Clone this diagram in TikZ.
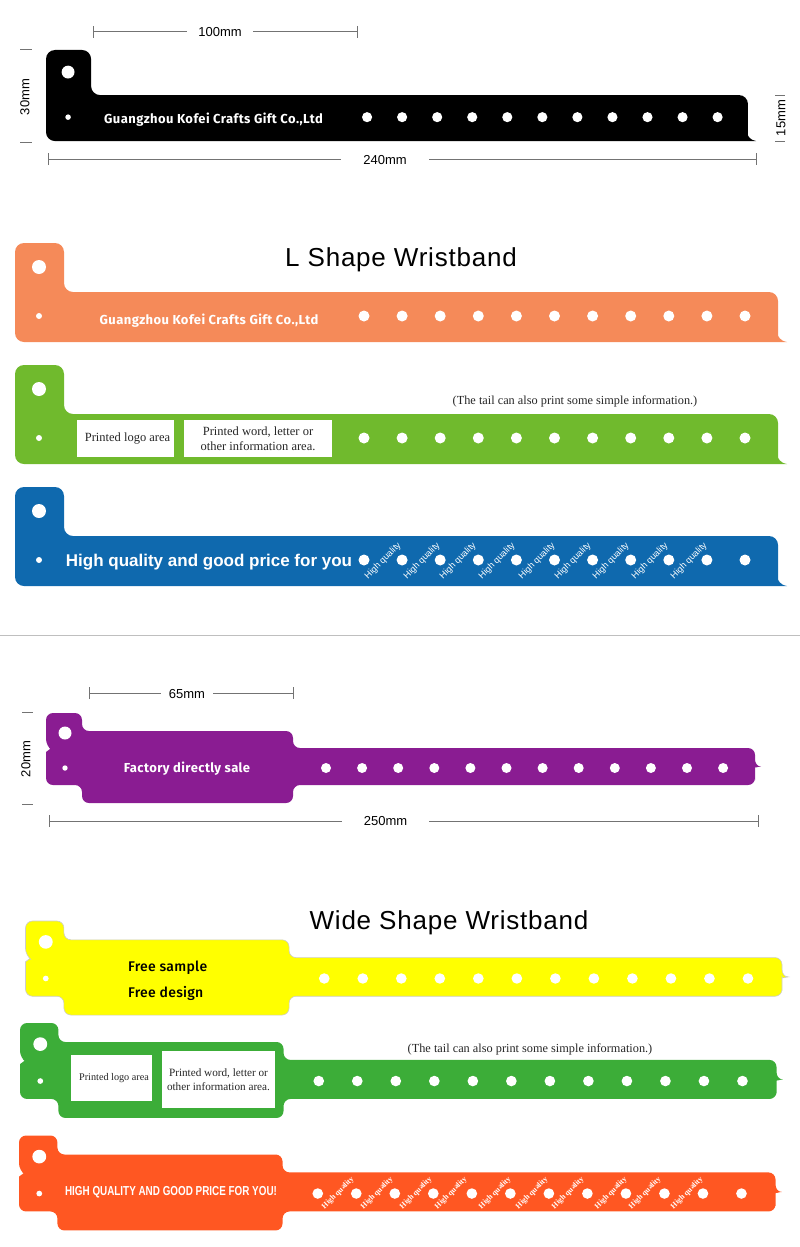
\documentclass[tikz,border=0pt]{standalone}
\usepackage{fontspec}
\setmainfont{Liberation Serif}
\newfontfamily\dimfont{Liberation Sans}
\newfontfamily\titlefont[LetterSpace=3]{Liberation Sans}
\newfontfamily\dinfont[LetterSpace=3.3]{Fira Sans}
\newfontfamily\dinmedium[LetterSpace=2]{Fira Sans Medium}
\usetikzlibrary{arrows.meta}

\definecolor{bandorange}{HTML}{F58A59}
\definecolor{bandlime}{HTML}{70BA2D}
\definecolor{bandblue}{HTML}{0F69AE}
\definecolor{bandpurple}{HTML}{8A1C92}
\definecolor{bandyellow}{HTML}{FFFF00}
\definecolor{bandgreen}{HTML}{3CAD38}
\definecolor{bandred}{HTML}{FF5722}

\newcommand{\fsize}[1]{\fontsize{#1}{#1}\selectfont}

\tikzset{
    dimline/.style={draw=black!55, line width=1pt},
    dimbar/.style={dimline, {Bar[width=12pt,length=1pt]}-},
    dimlabel/.style={font=\dimfont\fsize{13}, inner xsep=11pt, inner ysep=0pt},
    bandtext/.style={font=\dinfont\bfseries\fsize{13}, text=white},
    freetext/.style={font=\dinmedium\fsize{14}, text=black, anchor=west, inner sep=0pt},
    title/.style={font=\titlefont\fsize{26}, text=black},
    note/.style={font=\fsize{12.3}, text=black!85},
    infobox/.style={fill=white, font=\fsize{12.5}, text=black!85, align=center, inner sep=0pt},
    bluetag/.style={font=\dimfont\fsize{9}, text=white, rotate=45, inner sep=0pt},
    redtag/.style={font=\bfseries\fsize{7.8}, text=white, rotate=45, inner sep=0pt},
}

\newcommand{\lband}[2]{
    \begin{scope}[#1]
        \fill[#2] (0,40) [rounded corners=9pt] -- (0,0) -- (49,0) -- (49,49) -- (763,49) -- (763,83)
            [sharp corners] .. controls (763,93) and (765,98) .. (772,99)
            [rounded corners=9pt] -- (0,99) -- cycle;
        \fill[white] (24,24) circle (7);
        \fill[white] (24,73) circle (3);
        \foreach \i in {0,...,10}
            \fill[white] (349+38.1*\i,73) circle (5.5);
    \end{scope}
}

\newcommand{\wband}[3][none]{
    \begin{scope}[#2]
        \path[fill=#3, draw=#1, line width=.6pt] (0,39) [rounded corners=7pt] -- (0,72) -- (36,72) -- (36,90) -- (247,90) -- (247,72)
            -- (709,72) -- (709,60) [sharp corners] .. controls (709,56) and (711,53.5) .. (715,53.5)
            .. controls (711,53.5) and (709,50) .. (709,46) [rounded corners=7pt] -- (709,35)
            -- (247,35) -- (247,18) -- (36,18) -- (36,0) -- (0,0) -- (0,33) [sharp corners] -- (4,36) -- cycle;
        \fill[white] (19,20) circle (6.5);
        \fill[white] (19,55) circle (2.7);
        \foreach \i in {0,...,11}
            \fill[white] (280+36.1*\i,55) circle (5);
    \end{scope}
}

\begin{document}
\begin{tikzpicture}[x=1pt,y=-1pt]
    \useasboundingbox (0,0) rectangle (800,1247);

    \lband{shift={(46,50)},scale=.92}{black}
    \lband{shift={(15,243)}}{bandorange}
    \lband{shift={(15,365)}}{bandlime}
    \lband{shift={(15,487)}}{bandblue}

    \coordinate (topL) at (92.5,32);
    \coordinate (topR) at (358,32);
    \node[dimlabel] (topmm) at (220,32) {100mm};
    \draw[dimbar] (topL) -- (topL -| topmm.west);
    \draw[dimbar] (topR) -- (topR -| topmm.east);

    \coordinate (botL) at (48,159);
    \coordinate (botR) at (757,159);
    \node[dimlabel, inner xsep=22pt] (botmm) at (385,160) {240mm};
    \draw[dimbar] (botL) -- (botL -| botmm.west);
    \draw[dimbar] (botR) -- (botR -| botmm.east);

    \draw[dimline] (20,50) -- (32,50);
    \draw[dimline] (20,142) -- (32,142);
    \node[dimlabel, rotate=90] (leftmm) at (25,97) {30mm};
    \draw[dimline] (775,95.5) -- (785,95.5);
    \draw[dimline] (775,141.5) -- (785,141.5);
    \node[dimlabel, rotate=90] (rightmm) at (781,118) {15mm};

    \node[bandtext] (blacktext) at (213.5,119.5) {Guangzhou Kofei Crafts Gift Co.,Ltd};
    \node[title] (ltitle) at (401,260) {L Shape Wristband};
    \node[bandtext] (orangetext) at (209,320.5) {Guangzhou Kofei Crafts Gift Co.,Ltd};

    \node[note] (ltail) at (575,401.5) {(The tail can also print some simple information.)};
    \node[infobox, minimum width=97pt, minimum height=37pt] (llogo) at (125.5,438.5) {\hspace*{4pt}Printed logo area};
    \node[infobox, minimum width=148pt, minimum height=37pt] (lword) at (258,438.5) {Printed word, letter or\\[3pt]other information area.};

    \node[font=\dimfont\bfseries\fsize{17}, text=white] (bluetext) at (209,562) {High quality and good price for you};
    \foreach \lx [count=\li] in {383,422,458,497,537,573,611,650,689}
        \node[bluetag] (bluetag\li) at (\lx,561) {High quality};

    \draw[black!25, line width=1pt] (0,635) -- (800,635);

    \wband{shift={(46,713)}}{bandpurple}
    \wband[black!20]{shift={(25.5,921)},xscale=1.067,yscale=1.045}{bandyellow}
    \wband{shift={(20,1023)},xscale=1.067,yscale=1.055}{bandgreen}
    \wband{shift={(19,1135.5)},xscale=1.067,yscale=1.055}{bandred}

    \coordinate (wtopL) at (89,693);
    \coordinate (wtopR) at (294,693);
    \node[dimlabel, inner xsep=8pt] (wtopmm) at (187,694) {65mm};
    \draw[dimbar] (wtopL) -- (wtopL -| wtopmm.west);
    \draw[dimbar] (wtopR) -- (wtopR -| wtopmm.east);

    \coordinate (wbotL) at (49,821);
    \coordinate (wbotR) at (759,821);
    \node[dimlabel, inner xsep=22pt] (wbotmm) at (385.5,821.5) {250mm};
    \draw[dimbar] (wbotL) -- (wbotL -| wbotmm.west);
    \draw[dimbar] (wbotR) -- (wbotR -| wbotmm.east);

    \draw[dimline] (22,712) -- (33,712);
    \draw[dimline] (22,804) -- (33,804);
    \node[dimlabel, rotate=90] (wleftmm) at (26,759) {20mm};

    \node[bandtext] (purpletext) at (187,768.5) {Factory directly sale};
    \node[title] (wtitle) at (449,923) {Wide Shape Wristband};

    \node[freetext] (free1) at (128,968) {Free sample};
    \node[freetext] (free2) at (128,993) {Free design};

    \node[note] (wtail) at (530,1049) {(The tail can also print some simple information.)};
    \node[infobox, font=\fsize{10.2}, minimum width=81pt, minimum height=46pt] (wlogo) at (111.5,1078) {\hspace*{5pt}Printed logo area};
    \node[infobox, font=\fsize{11.2}, minimum width=113pt, minimum height=57pt] (wword) at (218.5,1079.5) {Printed word, letter or\\[2.5pt]other information area.};

    \node[font=\dimfont\bfseries\fsize{13}, text=white] (redtext) at (171,1192) {\scalebox{.76}[1]{HIGH QUALITY AND GOOD PRICE FOR YOU!}};
    \foreach \lx [count=\li] in {338,377,416,451,495,532,568,611,645,687}
        \node[redtag] (redtag\li) at (\lx,1193) {High quality};
\end{tikzpicture}
\end{document}
